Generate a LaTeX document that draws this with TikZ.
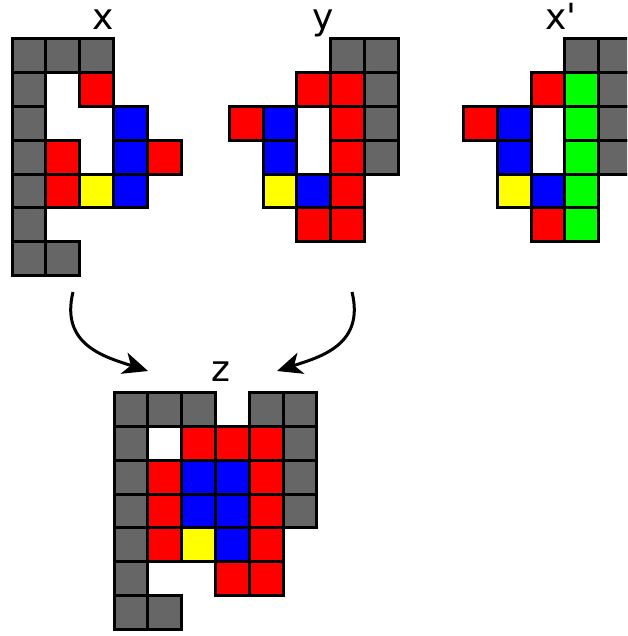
\documentclass[tikz,border=0pt]{standalone}
\usepackage{fontspec}
\setmainfont{DejaVu Sans}[Ligatures=TeXOff]
\newfontfamily\lblfont{DejaVu Sans}[Ligatures=TeXOff]
\usetikzlibrary{arrows.meta}
\definecolor{cgray}{RGB}{102,102,102}
\definecolor{cred}{RGB}{255,0,0}
\definecolor{cblue}{RGB}{0,0,255}
\definecolor{cyellow}{RGB}{255,255,0}
\definecolor{cgreen}{RGB}{0,255,0}
\begin{document}
\begin{tikzpicture}[x=1pt,y=-1pt,
  cell/.style={draw=black, line width=3pt, minimum size=33.8pt, inner sep=0pt, outer sep=0pt},
  lbl/.style={font=\lblfont\fontsize{36}{40}\selectfont, inner sep=0pt, anchor=base},
  arr/.style={line width=3pt, -{Stealth[length=25pt,width=22pt,inset=7pt]}}]
\useasboundingbox (0,0) rectangle (627,636);
\clip (0,0) rectangle (627,636);
% grid x
\foreach \r/\c/\k in {0/0/cgray,0/1/cgray,0/2/cgray,
  1/0/cgray,1/2/cred,
  2/0/cgray,2/3/cblue,
  3/0/cgray,3/1/cred,3/3/cblue,3/4/cred,
  4/0/cgray,4/1/cred,4/2/cyellow,4/3/cblue,
  5/0/cgray,
  6/0/cgray,6/1/cgray}
  \node[cell,fill=\k] (x\r\c) at ({12+33.8*(\c+0.5)},{39+33.8*(\r+0.5)}) {};
% grid y
\foreach \r/\c/\k in {0/3/cgray,0/4/cgray,
  1/2/cred,1/3/cred,1/4/cgray,
  2/0/cred,2/1/cblue,2/3/cred,2/4/cgray,
  3/1/cblue,3/3/cred,3/4/cgray,
  4/1/cyellow,4/2/cblue,4/3/cred,
  5/2/cred,5/3/cred}
  \node[cell,fill=\k] (y\r\c) at ({229.3+33.8*(\c+0.5)},{39+33.8*(\r+0.5)}) {};
% grid x'
\foreach \r/\c/\k in {0/3/cgray,0/4/cgray,
  1/2/cred,1/3/cgreen,1/4/cgray,
  2/0/cred,2/1/cblue,2/3/cgreen,2/4/cgray,
  3/1/cblue,3/3/cgreen,3/4/cgray,
  4/1/cyellow,4/2/cblue,4/3/cgreen,
  5/2/cred,5/3/cgreen}
  \node[cell,fill=\k] (xp\r\c) at ({463.5+33.8*(\c+0.5)},{39+33.8*(\r+0.5)}) {};
% grid z
\foreach \r/\c/\k in {0/0/cgray,0/1/cgray,0/2/cgray,0/4/cgray,0/5/cgray,
  1/0/cgray,1/2/cred,1/3/cred,1/4/cred,1/5/cgray,
  2/0/cgray,2/1/cred,2/2/cblue,2/3/cblue,2/4/cred,2/5/cgray,
  3/0/cgray,3/1/cred,3/2/cblue,3/3/cblue,3/4/cred,3/5/cgray,
  4/0/cgray,4/1/cred,4/2/cyellow,4/3/cblue,4/4/cred,
  5/0/cgray,5/3/cred,5/4/cred,
  6/0/cgray,6/1/cgray}
  \node[cell,fill=\k] (z\r\c) at ({114+33.8*(\c+0.5)},{392.7+33.8*(\r+0.5)}) {};
% labels
\node[lbl] (xlabel) at (103,30) {x};
\node[lbl] (ylabel) at (323,30) {y};
\node[lbl] (xplabel) at (561,30) {x'};
\node[lbl] (zlabel) at (220.5,381.5) {z};
% arrows
\coordinate (xout) at (73,292);
\coordinate (yout) at (352,292);
\coordinate (zinl) at (148,371);
\coordinate (zinr) at (277,371);
\draw[arr] (xout) .. controls (60,345) and (105,357) .. (zinl);
\draw[arr] (yout) .. controls (365,345) and (320,357) .. (zinr);
\end{tikzpicture}
\end{document}
